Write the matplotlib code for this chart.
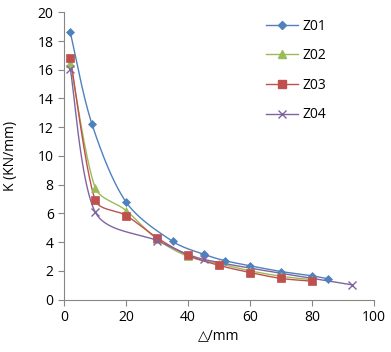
import numpy as np
import matplotlib
matplotlib.use("Agg")
import matplotlib.pyplot as plt

# Data
z01_x = [2, 9, 20, 35, 45, 52, 60, 70, 80, 85]
z01_k = [18.6, 12.2, 6.78, 4.05, 3.15, 2.7, 2.35, 1.95, 1.65, 1.45]
z02_x = [2, 10, 20, 30, 40, 50, 60, 70, 80]
z02_k = [16.5, 7.8, 6.2, 4.2, 3.0, 2.5, 2.0, 1.62, 1.38]
z03_x = [2, 10, 20, 30, 40, 50, 60, 70, 80]
z03_k = [16.84, 6.94, 5.85, 4.3, 3.08, 2.38, 1.88, 1.47, 1.28]
z04_x = [2, 10, 30, 45, 93]
z04_k = [16.05, 6.1, 4.1, 2.8, 1.02]

labels = ['Z01', 'Z02', 'Z03', 'Z04']
colors = ['#4F81BD', '#9BBB59', '#C0504D', '#8064A2']
markers = ['D', '^', 's', 'x']
msizes = [4.5, 5.5, 6, 6]

# y unit in x units on screen (aspect of the plot), used for chord lengths
Y_SCALE = 4.64


def clamp(v, limit):
    s = np.hypot(v[0], v[1] * Y_SCALE)
    return v * min(1.0, limit / s) if s > 0 else v


def smooth(x, y, n=40):
    """Excel-like smoothed line (cubic Bezier through the points)"""
    p = np.column_stack([x, y]).astype(float)
    d = np.hypot(np.diff(p[:, 0]), np.diff(p[:, 1]) * Y_SCALE)
    pts = [p[0]]
    for i in range(len(p) - 1):
        p0 = p[i - 1] if i > 0 else p[i]
        p3 = p[i + 2] if i + 2 < len(p) else p[i + 1]
        c1 = p[i] + clamp((p[i + 1] - p0) / 6, d[i] / 3)
        c2 = p[i + 1] - clamp((p3 - p[i]) / 6, d[i] / 3)
        t = np.linspace(0, 1, n)[1:, None]
        seg = ((1 - t) ** 3) * p[i] + 3 * ((1 - t) ** 2) * t * c1 \
            + 3 * (1 - t) * t ** 2 * c2 + t ** 3 * p[i + 1]
        pts.extend(seg)
    pts = np.array(pts)
    return pts[:, 0], pts[:, 1]


plt.rcParams['font.family'] = ['Open Sans', 'DejaVu Sans']
fig = plt.figure(figsize=(3.91, 3.52), dpi=100)
ax = fig.add_axes([0.164, 0.149, 0.793, 0.816])

series = [(z01_x, z01_k), (z02_x, z02_k), (z03_x, z03_k), (z04_x, z04_k)]
for (x, k), lab, c, m, ms in zip(series, labels, colors, markers, msizes):
    sx, sk = smooth(x, k)
    ax.plot(sx, sk, color=c, linewidth=1.0, zorder=2)
    ax.plot(x, k, linestyle='none', marker=m, color=c, markersize=ms,
            markeredgewidth=1.0 if m == 'x' else 0.5, zorder=3)
    ax.plot([], [], color=c, linewidth=1.0, marker=m, markersize=ms, label=lab)

ax.set_xlim(0, 100)
ax.set_ylim(0, 20)
ax.set_xticks(np.arange(0, 101, 20))
ax.set_yticks(np.arange(0, 21, 2))
ax.set_xlabel('△/mm', fontsize=10, labelpad=2)
ax.set_ylabel('K (KN/mm)', fontsize=10, labelpad=14)
ax.tick_params(axis='both', labelsize=10, direction='out', length=4, color='#868686')
for s in ['top', 'right']:
    ax.spines[s].set_visible(False)
for s in ['left', 'bottom']:
    ax.spines[s].set_color('#868686')

fig.legend(loc='upper left', bbox_to_anchor=(0.68, 0.947), frameon=False,
           fontsize=10, labelspacing=1.05, handlelength=2.3, handletextpad=0.35,
           borderpad=0, borderaxespad=0)

fig.savefig('out.png', dpi=100)
